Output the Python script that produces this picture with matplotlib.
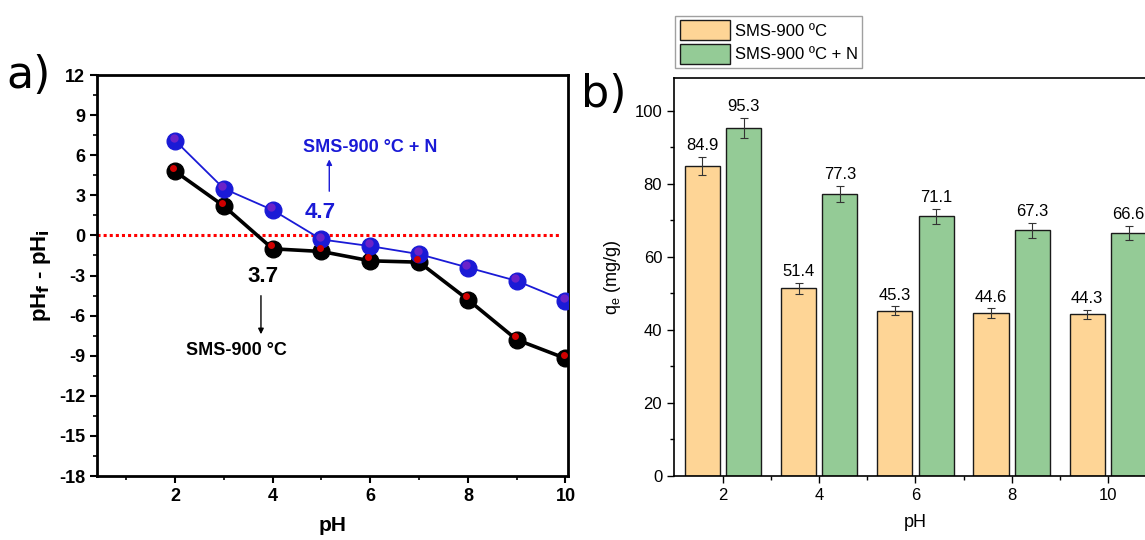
import matplotlib
matplotlib.use("Agg")
import matplotlib.pyplot as plt
import numpy as np

# ---- data panel a ----
ph_a = [2, 3, 4, 5, 6, 7, 8, 9, 10]
dph_sms = [4.8, 2.2, -1.0, -1.2, -1.9, -2.0, -4.8, -7.8, -9.2]
dph_smsn = [7.1, 3.5, 1.9, -0.3, -0.8, -1.4, -2.4, -3.4, -4.9]
a_yticks = [12, 9, 6, 3, 0, -3, -6, -9, -12, -15, -18]
a_xticks = [2, 4, 6, 8, 10]

# ---- data panel b ----
ph_b = [2, 4, 6, 8, 10]
qe_sms = [84.9, 51.4, 45.3, 44.6, 44.3]
qe_smsn = [95.3, 77.3, 71.1, 67.3, 66.6]
err_sms = [2.5, 1.5, 1.2, 1.3, 1.2]
err_smsn = [2.8, 2.2, 2.0, 2.0, 2.0]
b_yticks = [0, 20, 40, 60, 80, 100]
series_names = ["SMS-900 ºC", "SMS-900 ºC + N"]

plt.rcParams['font.family'] = ['Liberation Sans', 'DejaVu Sans']
plt.rcParams['axes.unicode_minus'] = False

fig = plt.figure(figsize=(11.45, 5.4), dpi=100)

# ================= panel a =================
ax = fig.add_axes([0.0847, 0.1185, 0.4113, 0.7425])
ax.axhline(0, color='red', lw=2.2, ls=(0, (1, 1)), zorder=1, xmax=0.98)
ax.plot(ph_a, dph_sms, '-', color='black', lw=2.6, zorder=2)
ax.plot(ph_a, dph_smsn, '-', color='#1a1ad6', lw=1.3, zorder=2)
ax.plot(ph_a, dph_sms, 'o', ms=12, mfc='black', mec='black', zorder=3)
ax.plot(np.array(ph_a) - 0.04, np.array(dph_sms) + 0.25, 'o', ms=5,
        mfc='#d00000', mec='none', zorder=4)
ax.plot(ph_a, dph_smsn, 'o', ms=12, mfc='#1a1ad6', mec='#1a1ad6', zorder=3)
ax.plot(np.array(ph_a) - 0.03, np.array(dph_smsn) + 0.2, 'o', ms=6,
        mfc='#6a22c8', mec='none', zorder=4)

ax.set_xlim(0.4, 10.05)
ax.set_ylim(-18, 12)
ax.set_xticks(a_xticks)
ax.set_yticks(a_yticks)
ax.set_xticks([1, 3, 5, 7, 9], minor=True)
ax.set_yticks(np.arange(-16.5, 12, 3), minor=True)
ax.tick_params(which='major', direction='out', length=5, width=1.5,
               labelsize=13)
ax.tick_params(which='minor', direction='out', length=3, width=1.2)
for lab in ax.get_xticklabels() + ax.get_yticklabels():
    lab.set_fontweight('bold')
for sp in ax.spines.values():
    sp.set_linewidth(2)
ax.set_xlabel('pH', fontsize=15, fontweight='bold', labelpad=8)
ax.set_ylabel('pH$_\\mathbf{f}$ - pH$_\\mathbf{i}$', fontsize=16,
              fontweight='bold', labelpad=4)

ax.text(4.97, 1.7, '4.7', color='#1a1ad6', fontsize=16, fontweight='bold',
        ha='center', va='center')
ax.annotate('', xy=(5.16, 5.9), xytext=(5.16, 3.1),
            arrowprops=dict(arrowstyle='-|>', color='#1a1ad6', lw=1,
                            mutation_scale=8))
ax.text(6.0, 6.6, 'SMS-900 °C + N', color='#1a1ad6', fontsize=13,
        fontweight='bold', ha='center', va='center')
ax.text(3.8, -3.1, '3.7', color='black', fontsize=16, fontweight='bold',
        ha='center', va='center')
ax.annotate('', xy=(3.76, -7.6), xytext=(3.76, -4.3),
            arrowprops=dict(arrowstyle='-|>', color='black', lw=1,
                            mutation_scale=8))
ax.text(3.25, -8.6, 'SMS-900 °C', color='black', fontsize=13,
        fontweight='bold', ha='center', va='center')

fig.text(0.006, 0.86, 'a)', fontsize=32, family='DejaVu Sans',
         ha='left', va='center')

# ================= panel b =================
bx = fig.add_axes([0.5886, 0.1185, 0.421, 0.7371])
x = np.array(ph_b, dtype=float)
w = 0.73
off = 0.43
ekw = dict(ecolor='#333333', elinewidth=0.8, capthick=0.8)
bx.bar(x - off, qe_sms, w, color='#FED596', edgecolor='#1a1a1a', lw=1,
       yerr=err_sms, capsize=3, error_kw=ekw,
       label=series_names[0], zorder=2)
bx.bar(x + off, qe_smsn, w, color='#94CB96', edgecolor='#1a1a1a', lw=1,
       yerr=err_smsn, capsize=3, error_kw=ekw,
       label=series_names[1], zorder=2)
for xi, v, e in zip(x - off, qe_sms, err_sms):
    bx.text(xi, v + e + 1.0, f'{v:.1f}', ha='center', va='bottom',
            fontsize=12)
for xi, v, e in zip(x + off, qe_smsn, err_smsn):
    bx.text(xi, v + e + 1.0, f'{v:.1f}', ha='center', va='bottom',
            fontsize=12)

bx.set_xlim(0.98, 11)
bx.set_ylim(0, 109)
bx.set_xticks(ph_b)
bx.set_yticks(b_yticks)
bx.set_xticks([3, 5, 7, 9], minor=True)
bx.set_yticks(np.arange(10, 109, 20), minor=True)
bx.tick_params(which='major', direction='out', length=5, width=1,
               labelsize=12)
bx.tick_params(which='minor', direction='out', length=3, width=1)
for sp in bx.spines.values():
    sp.set_linewidth(1.2)
bx.set_xlabel('pH', fontsize=13, labelpad=8)
bx.set_ylabel('q$_\\mathregular{e}$ (mg/g)', fontsize=13, labelpad=8)

leg = bx.legend(loc='lower left', bbox_to_anchor=(0.003, 1.025), fontsize=12,
                frameon=True, fancybox=False, edgecolor='#888888',
                handlelength=3.0, handleheight=1.5, borderpad=0.25,
                labelspacing=0.2, handletextpad=0.3, borderaxespad=0)
leg.get_frame().set_linewidth(1)

fig.text(0.507, 0.825, 'b)', fontsize=32, family='DejaVu Sans',
         ha='left', va='center')

fig.savefig('out.png', dpi=100)
